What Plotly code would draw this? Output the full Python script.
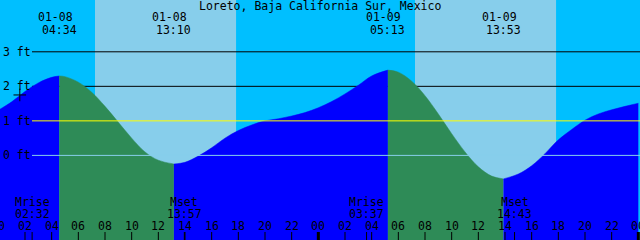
import plotly.graph_objects as go

# ---- data ----
title = "Loreto, Baja California Sur, Mexico"

# tide height (ft) vs hours since 01-08 00:00
tide_hours = [0, 1, 2, 3, 4, 4.567, 5, 6, 7, 8, 9, 10, 11, 12, 13.167, 14, 15, 16, 17, 18,
              19, 20, 21, 22, 23, 24, 25, 26, 27, 28, 29.217, 30, 31, 32, 33, 34, 35, 36,
              37, 37.883, 39, 40, 41, 42, 43, 44, 45, 46, 47, 48]
tide_ft = [1.31, 1.55, 1.85, 2.10, 2.26, 2.30, 2.28, 2.12, 1.83, 1.42, 0.96, 0.50, 0.10, -0.14,
           -0.25, -0.20, -0.02, 0.22, 0.50, 0.72, 0.88, 1.00, 1.06, 1.14, 1.24, 1.38, 1.56,
           1.78, 2.03, 2.30, 2.47, 2.41, 2.15, 1.73, 1.20, 0.63, 0.10, -0.33, -0.60, -0.68,
           -0.54, -0.30, 0.05, 0.45, 0.75, 1.02, 1.20, 1.32, 1.42, 1.51]

# high / low tide events
event_hours = [4.567, 13.167, 29.217, 37.883]
event_dates = ["01-08", "01-08", "01-09", "01-09"]
event_times = ["04:34", "13:10", "05:13", "13:53"]

# moon rise / set
moon_hours = [2.533, 13.95, 27.617, 38.717]
moon_labels = ["Mrise", "Mset", "Mrise", "Mset"]
moon_times = ["02:32", "13:57", "03:37", "14:43"]

# daylight
sunrise_hours = [7.25, 31.25]
sunset_hours = [17.83, 41.83]

# datum lines
level_ft = [3, 2, 1, 0]
level_labels = ["3 ft", "2 ft", "1 ft", "0 ft"]
level_colors = ["black", "black", "#FFFF00", "#87CEEB"]

# hour ticks
tick_hours = list(range(0, 49, 2))
tick_labels = ["%02d" % (h % 24) for h in tick_hours]

# current-time marker
now_hour = [1.61]
now_ft = [1.75]

# ---- figure ----
XMIN, XMAX = 0.125, 48.125
YMIN, YMAX = -2.45, 4.50
FONT = dict(family="DejaVu Sans Mono", size=11.5, color="black")

NIGHT = "#00BFFF"
DAY = "#87CEEB"
RISE = "#0000FF"
FALL = "#2E8B57"

fig = go.Figure()

bounds = [tide_hours[0]] + event_hours + [tide_hours[-1]]
for i in range(len(bounds) - 1):
    a, b = bounds[i], bounds[i + 1]
    xs = [h for h in tide_hours if a <= h <= b]
    ys = [tide_ft[tide_hours.index(h)] for h in xs]
    color = RISE if ys[-1] > ys[0] else FALL
    fig.add_trace(go.Scatter(x=xs, y=[YMIN] * len(xs), mode="lines",
                             line=dict(width=0), showlegend=False, hoverinfo="skip"))
    fig.add_trace(go.Scatter(x=xs, y=ys, mode="lines",
                             line=dict(width=0.5, shape="spline", smoothing=1.0,
                                       color=color, simplify=False),
                             fill="tonexty", fillcolor=color,
                             showlegend=False, hoverinfo="skip"))

fig.add_trace(go.Scatter(x=now_hour, y=now_ft, mode="markers",
                         marker=dict(symbol="cross-thin", size=9,
                                     line=dict(width=1, color="black")),
                         showlegend=False, hoverinfo="skip"))

shapes = []
for sr, ss in zip(sunrise_hours, sunset_hours):
    shapes.append(dict(type="rect", xref="x", yref="paper", x0=sr, x1=ss, y0=0, y1=1,
                       fillcolor=DAY, line=dict(width=0), layer="below"))
for lv, col in zip(level_ft, level_colors):
    shapes.append(dict(type="line", xref="paper", yref="y", x0=32 / 640, x1=1, y0=lv, y1=lv,
                       line=dict(color=col, width=1),
                       layer="below" if col == "black" else "above"))
tick_len = 8 / 240
for h in tick_hours:
    w = 3 if h % 24 == 0 else 1
    shapes.append(dict(type="line", xref="x", yref="paper", x0=h, x1=h, y0=0, y1=tick_len,
                       line=dict(color="black", width=w), layer="above"))
for h in moon_hours:
    shapes.append(dict(type="line", xref="x", yref="paper", x0=h, x1=h, y0=0, y1=tick_len,
                       line=dict(color="black", width=1), layer="above"))

def py(p):
    return 1 - p / 240

ann = []
ann.append(dict(text=title, xref="paper", yref="paper", x=0.5, y=py(6),
                showarrow=False, font=FONT, xanchor="center", yanchor="middle"))
for h, d, t in zip(event_hours, event_dates, event_times):
    ann.append(dict(text=d, xref="x", yref="paper", x=h, y=py(17.5), xshift=-4,
                    showarrow=False, font=FONT, xanchor="center", yanchor="middle"))
    ann.append(dict(text=t, xref="x", yref="paper", x=h, y=py(29.5),
                    showarrow=False, font=FONT, xanchor="center", yanchor="middle"))
for h, l, t in zip(moon_hours, moon_labels, moon_times):
    ann.append(dict(text=l, xref="x", yref="paper", x=h, y=py(201.5),
                    showarrow=False, font=FONT, xanchor="center", yanchor="middle"))
    ann.append(dict(text=t, xref="x", yref="paper", x=h, y=py(213.5),
                    showarrow=False, font=FONT, xanchor="center", yanchor="middle"))
for h, l in zip(tick_hours, tick_labels):
    if XMIN <= h <= XMAX:
        ann.append(dict(text=l, xref="x", yref="paper", x=h, y=py(226),
                        showarrow=False, font=FONT, xanchor="center", yanchor="middle"))
    else:
        # label partially outside the visible axis range (cut at the edge)
        ann.append(dict(text=l, xref="paper", yref="paper",
                        x=(h - XMIN) / (XMAX - XMIN), y=py(226),
                        showarrow=False, font=FONT, xanchor="center", yanchor="middle"))
for lv, l in zip(level_ft, level_labels):
    ann.append(dict(text=l, xref="paper", yref="y", x=1 / 640, y=lv,
                    showarrow=False, font=FONT, xanchor="left", yanchor="middle"))

fig.update_layout(
    width=640, height=240, margin=dict(l=0, r=0, t=0, b=0),
    paper_bgcolor=NIGHT, plot_bgcolor=NIGHT,
    xaxis=dict(range=[XMIN, XMAX], visible=False, fixedrange=True),
    yaxis=dict(range=[YMIN, YMAX], visible=False, fixedrange=True),
    shapes=shapes, annotations=ann, showlegend=False,
)

fig.write_html("out.html", config={"displayModeBar": False})
